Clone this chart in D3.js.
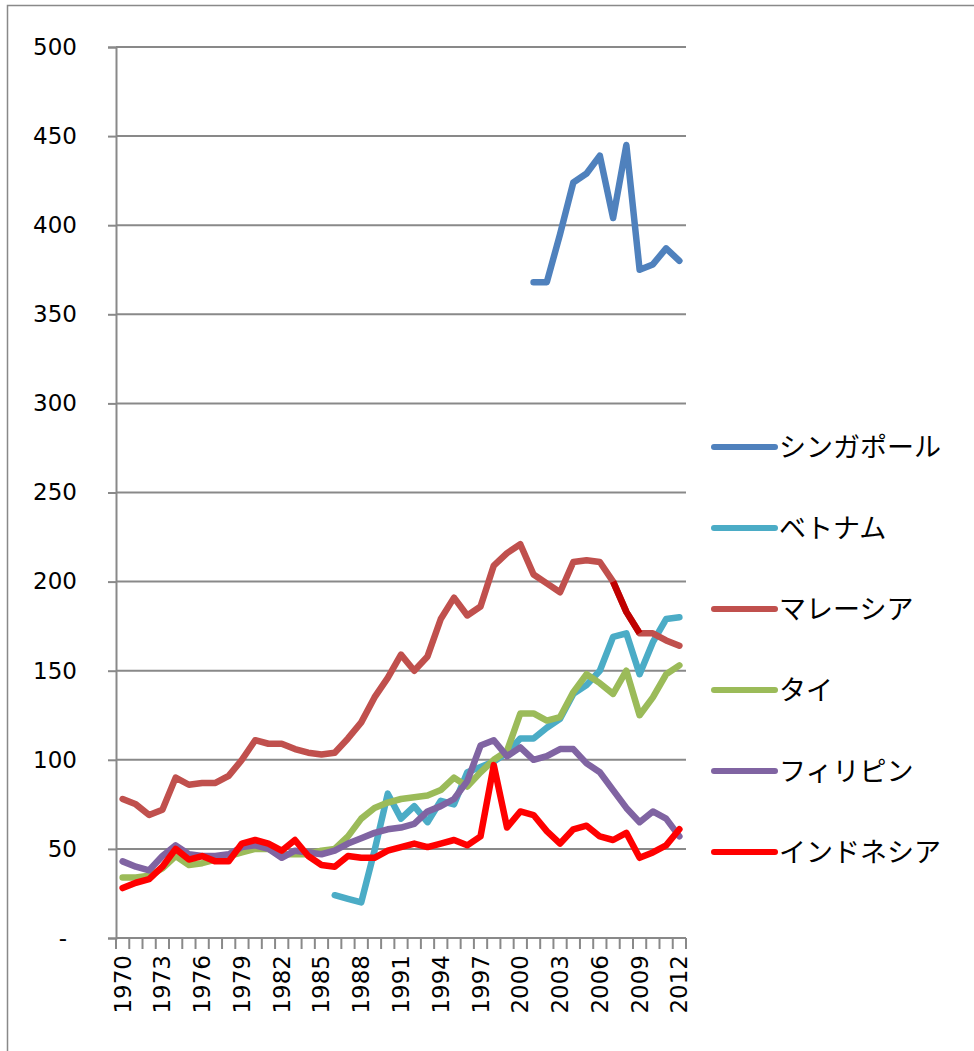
<!DOCTYPE html>
<html>
<head>
<meta charset="utf-8">
<script src="https://cdn.jsdelivr.net/npm/d3@7"></script>
<style>
  html, body { margin: 0; padding: 0; background: #fff; }
  svg { display: block; }
</style>
</head>
<body>
<svg id="chart" width="974" height="1051"></svg>
<script>
// Years on the category axis
const years = d3.range(1970, 2013);

// Series values, one entry per year (null = no data)
const singapore = [
  null, null, null, null, null, null, null, null, null, null,
  null, null, null, null, null, null, null, null, null, null,
  null, null, null, null, null, null, null, null, null, null,
  null, 368, 368, 395, 424, 429, 439, 404, 445, 375, 378, 387, 380
];
const vietnam = [
  null, null, null, null, null, null, null, null, null, null,
  null, null, null, null, null, null, 24, 22, 20, 49, 81, 67, 74, 65, 77, 75,
  93, 96, 99, 104, 112, 112, 118, 123, 137, 142, 150, 169, 171, 148, 166, 179, 180
];
const malaysia = [
  78, 75, 69, 72, 90, 86, 87, 87, 91, 100, 111, 109, 109, 106, 104, 103, 104, 112, 121, 135,
  146, 159, 150, 158, 179, 191, 181, 186, 209, 216, 221, 204, 199, 194, 211, 212, 211, 200,
  183, 171, 171, 167, 164
];
const thai = [
  34, 34, 35, 39, 46, 41, 42, 44, 46, 48, 50, 50, 47, 47, 47, 49, 50, 57, 67, 73,
  76, 78, 79, 80, 83, 90, 85, 93, 100, 105, 126, 126, 122, 124, 138, 148, 143, 137,
  150, 125, 135, 148, 153
];
const philippines = [
  43, 40, 38, 46, 52, 47, 46, 46, 47, 51, 52, 50, 45, 49, 48, 47, 49, 53, 56, 59,
  61, 62, 64, 71, 74, 78, 88, 108, 111, 102, 107, 100, 102, 106, 106, 98, 93, 83,
  73, 65, 71, 67, 57
];
const indonesia = [
  28, 31, 33, 40, 50, 44, 46, 43, 43, 53, 55, 53, 49, 55, 46, 41, 40, 46, 45, 45,
  49, 51, 53, 51, 53, 55, 52, 57, 97, 62, 71, 69, 60, 53, 61, 63, 57, 55, 59, 45,
  48, 52, 61
];

// Years whose segments of the Malaysia line are drawn in a darker red
const malaysiaHighlight = [2007, 2008, 2009];

const seriesNames = ["シンガポール", "ベトナム", "マレーシア", "タイ", "フィリピン", "インドネシア"];
const seriesValues = [singapore, vietnam, malaysia, thai, philippines, indonesia];
const seriesColors = ["#4F81BD", "#4BACC6", "#C0504D", "#9BBB59", "#8064A2", "#FF0000"];

const yTicks = [0, 50, 100, 150, 200, 250, 300, 350, 400, 450, 500];
const xLabelYears = years.filter((y, i) => i % 3 === 0);

const svg = d3.select("#chart");
const gridColor = "#898989";
const numFont = "'DejaVu Sans', Verdana, sans-serif";

// Outer chart border
svg.append("rect")
  .attr("x", 7.5).attr("y", 5.5)
  .attr("width", 1000).attr("height", 1100)
  .attr("fill", "none").attr("stroke", gridColor).attr("stroke-width", 1.5);

const plot = { left: 116, right: 686, top: 47, bottom: 938 };

const x = d3.scaleBand().domain(years).range([plot.left, plot.right]).padding(0);
const xc = yr => x(yr) + x.bandwidth() / 2;
const y = d3.scaleLinear().domain([0, 500]).range([plot.bottom, plot.top]);

// Horizontal gridlines
svg.append("g").selectAll("line")
  .data(yTicks.filter(v => v > 0))
  .join("line")
  .attr("x1", plot.left).attr("x2", plot.right)
  .attr("y1", d => y(d)).attr("y2", d => y(d))
  .attr("stroke", gridColor).attr("stroke-width", 2);

// Y axis
const yAxis = svg.append("g")
  .attr("transform", `translate(${plot.left},0)`)
  .call(d3.axisLeft(y).tickValues(yTicks).tickSize(8).tickPadding(31)
    .tickFormat(v => v === 0 ? "-" : d3.format("d")(v)));
yAxis.select(".domain").attr("stroke", gridColor).attr("stroke-width", 2);
yAxis.selectAll(".tick line").attr("stroke", gridColor).attr("stroke-width", 2);
yAxis.selectAll(".tick text")
  .attr("font-family", numFont).attr("font-size", 23).attr("fill", "#000");
yAxis.selectAll(".tick").filter(d => d === 0).select("text").attr("dx", -10);

// X axis: tick marks on category boundaries
const boundaries = years.map(yr => x(yr)).concat([plot.right]);
svg.append("g").selectAll("line")
  .data(boundaries)
  .join("line")
  .attr("x1", d => d).attr("x2", d => d)
  .attr("y1", plot.bottom).attr("y2", plot.bottom + 11)
  .attr("stroke", gridColor).attr("stroke-width", 2);
svg.append("line")
  .attr("x1", plot.left).attr("x2", plot.right)
  .attr("y1", plot.bottom).attr("y2", plot.bottom)
  .attr("stroke", gridColor).attr("stroke-width", 2);

// X labels, rotated
svg.append("g").selectAll("text")
  .data(xLabelYears)
  .join("text")
  .attr("transform", d => `translate(${xc(d) + 8},${plot.bottom + 17}) rotate(-90)`)
  .attr("text-anchor", "end")
  .attr("font-family", numFont).attr("font-size", 23).attr("fill", "#000")
  .text(d => d);

// Lines
const line = d3.line()
  .defined(d => d.v != null)
  .x(d => xc(d.year))
  .y(d => y(d.v));

const linesG = svg.append("g").attr("fill", "none")
  .attr("stroke-linejoin", "round").attr("stroke-linecap", "round");

seriesValues.forEach((vals, si) => {
  const pts = years.map((yr, i) => ({ year: yr, v: vals[i] }));
  linesG.append("path")
    .attr("d", line(pts))
    .attr("stroke", seriesColors[si])
    .attr("stroke-width", 6.5);
  if (si === 2) {
    const hp = pts.filter(p => malaysiaHighlight.includes(p.year));
    linesG.append("path")
      .attr("d", line(hp))
      .attr("stroke", "#C00000")
      .attr("stroke-width", 6.5)
      .attr("stroke-linecap", "butt");
  }
});

// Legend
const legend = svg.append("g");
const legendY0 = 447, legendStep = 81;
seriesNames.forEach((name, i) => {
  const ly = legendY0 + i * legendStep;
  legend.append("line")
    .attr("x1", 714).attr("x2", 775)
    .attr("y1", ly).attr("y2", ly)
    .attr("stroke", seriesColors[i]).attr("stroke-width", 6)
    .attr("stroke-linecap", "round");
  legend.append("text")
    .attr("x", 779).attr("y", ly)
    .attr("dy", "0.36em")
    .attr("font-family", "'Noto Sans CJK JP', sans-serif")
    .attr("font-size", 27).attr("fill", "#000")
    .text(name);
});
</script>
</body>
</html>
